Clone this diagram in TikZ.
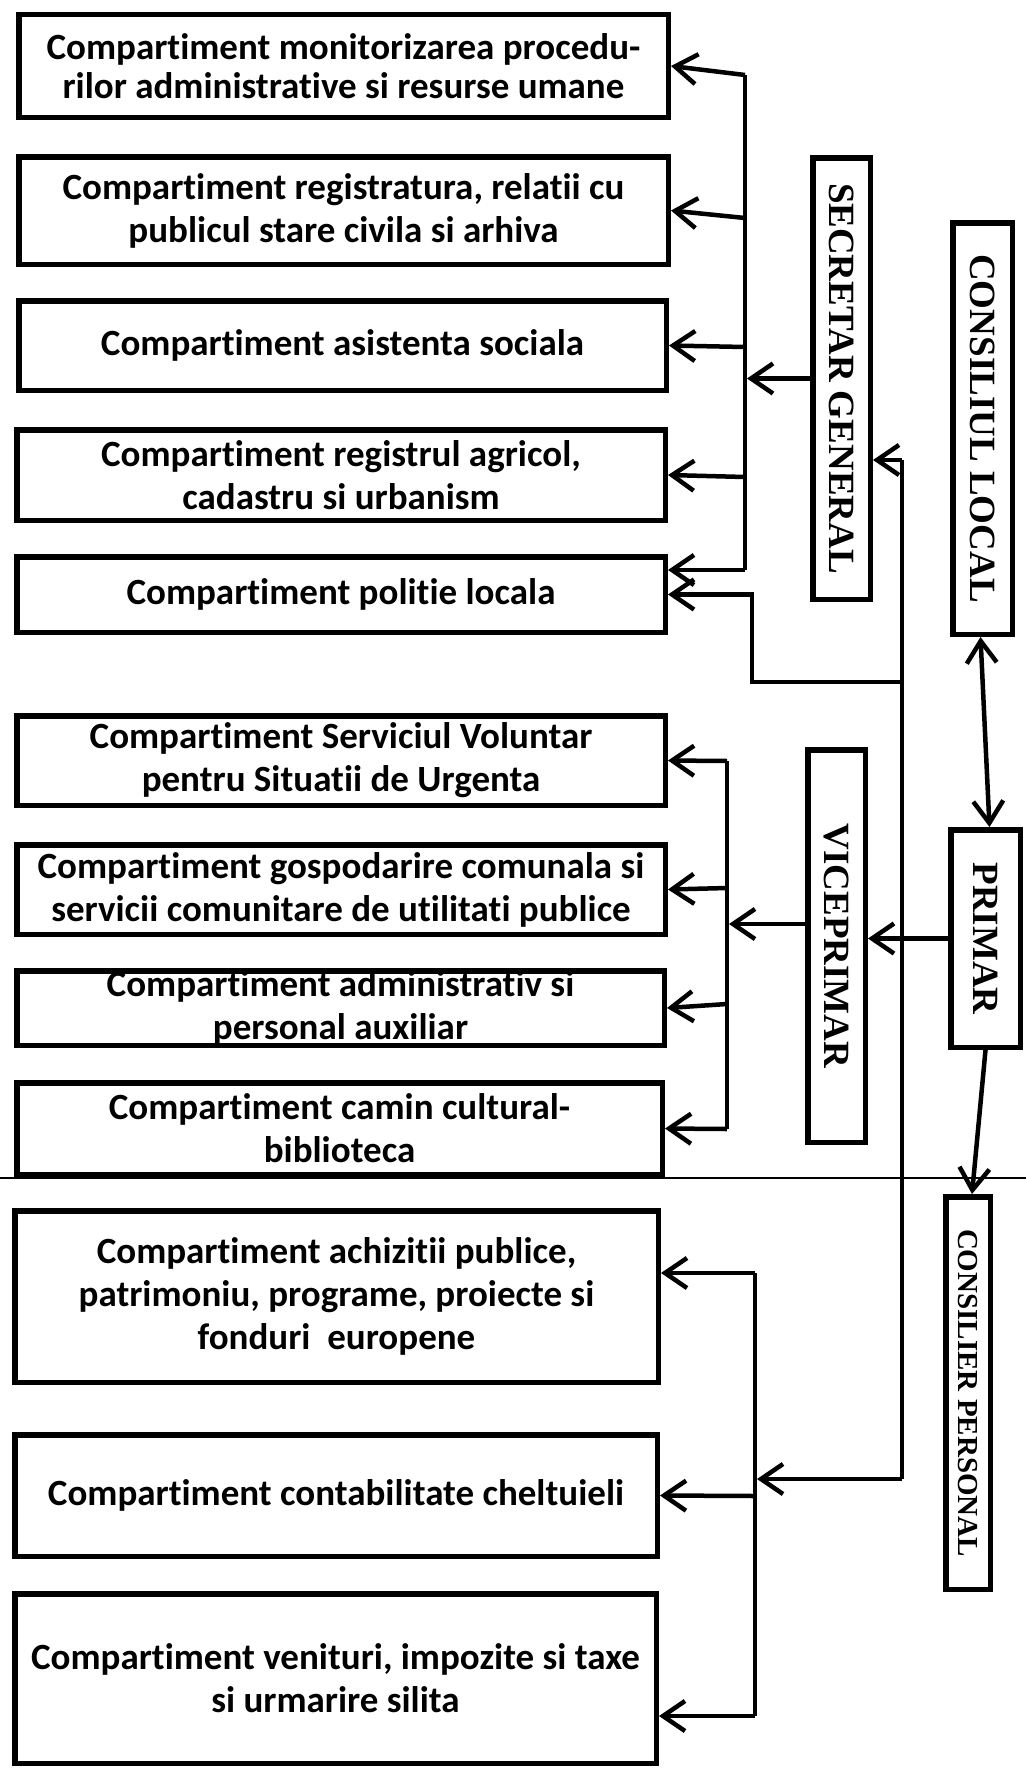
\documentclass[tikz,border=0pt]{standalone}
\usepackage{fontspec}
\setmainfont{Carlito}[Ligatures=NoCommon]
\newfontfamily\tms{Liberation Serif}
\usetikzlibrary{arrows.meta,calc}
\tikzset{
  box/.style={draw, line width=5.5pt, rectangle, inner sep=0pt},
  btext/.style={align=center, inner sep=0pt, font=\fontsize{37}{43}\selectfont\bfseries},
  vtext/.style={rotate=-90, inner sep=0pt, font=\fontsize{37}{40}\selectfont\tms\bfseries},
  conn/.style={line width=4.5pt, line join=miter},
  barb/.tip={Straight Barb[length=22pt,width=30pt]},
  arr/.style={conn, -barb},
}
\begin{document}
\begin{tikzpicture}[x=1pt,y=-1pt]
\fill[white] (0,0) rectangle (1026,1769);
\useasboundingbox (0,0) rectangle (1026,1769);

% left boxes
\node[box, minimum width=649.5pt, minimum height=102.5pt] (b1) at (343.5,66) {};
\node[box, minimum width=649.5pt, minimum height=107.5pt] (b2) at (343.5,210.5) {};
\node[box, minimum width=647.5pt, minimum height=89.5pt] (b3) at (342.5,345.5) {};
\node[box, minimum width=648.5pt, minimum height=90.5pt] (b4) at (341,475) {};
\node[box, minimum width=648.5pt, minimum height=75.5pt] (b5) at (341,594.5) {};
\node[box, minimum width=648.5pt, minimum height=89.5pt] (b6) at (341,760.5) {};
\node[box, minimum width=648.5pt, minimum height=89.5pt] (b7) at (341,889.5) {};
\node[box, minimum width=647.5pt, minimum height=74.5pt] (b8) at (340.5,1008) {};
\node[box, minimum width=645.5pt, minimum height=91.5pt] (b9) at (339.5,1128.5) {};
\node[box, minimum width=643.5pt, minimum height=171.5pt] (b10) at (336.5,1296.5) {};
\node[box, minimum width=642.5pt, minimum height=121.5pt] (b11) at (336,1495.5) {};
\node[box, minimum width=641.5pt, minimum height=169.5pt] (b12) at (335.5,1678.5) {};

\node[btext, font=\fontsize{37}{39}\selectfont\bfseries] (t1) at (b1) {Compartiment monitorizarea procedu-\\rilor administrative si resurse umane};
\node[btext] (t2) at (b2) {Compartiment registratura, relatii cu\\publicul stare civila si arhiva};
\node[btext] (t3) at (b3) {Compartiment asistenta sociala};
\node[btext] (t4) at (b4) {Compartiment registrul agricol,\\cadastru si urbanism};
\node[btext] (t5) at (b5) {Compartiment politie locala};
\node[btext] (t6) at (b6) {Compartiment Serviciul Voluntar\\pentru Situatii de Urgenta};
\node[btext] (t7) at (b7) {Compartiment gospodarire comunala si\\servicii comunitare de utilitati publice};
\node[btext] (t8) at (b8) {Compartiment administrativ si\\personal auxiliar};
\node[btext] (t9) at (b9) {Compartiment camin cultural-\\biblioteca};
\node[btext] (t10) at (b10) {Compartiment achizitii publice,\\patrimoniu, programe, proiecte si\\fonduri\ \ europene};
\node[btext] (t11) at (b11) {Compartiment contabilitate cheltuieli};
\node[btext] (t12) at (b12) {Compartiment venituri, impozite si taxe\\si urmarire silita};

% right boxes
\node[box, minimum width=57.5pt, minimum height=441.5pt] (sec) at (841.5,378.5) {};
\node[box, minimum width=59.5pt, minimum height=411.5pt] (cl) at (982.5,428.5) {};
\node[box, minimum width=57.5pt, minimum height=392.5pt] (vp) at (836.5,946) {};
\node[box, minimum width=69.5pt, minimum height=217.5pt] (pr) at (985.5,938.5) {};
\node[box, minimum width=44.5pt, minimum height=392.5pt] (cp) at (968,1393) {};

\node[vtext] (tsec) at (sec) {SECRETAR GENERAL};
\node[vtext] (tcl) at (cl) {CONSILIUL LOCAL};
\node[vtext] (tvp) at (vp) {VICEPRIMAR};
\node[vtext] (tpr) at (pr) {PRIMAR};
\node[vtext, font=\fontsize{29}{32}\selectfont\tms\bfseries] (tcp) at (cp) {CONSILIER PERSONAL};

% secretar bus
\coordinate (s1) at (745,75);
\coordinate (s2) at (745,218);
\coordinate (s3) at (745,347);
\coordinate (s4) at (745,477);
\coordinate (s5) at (745,570);
\draw[conn] (s1) -- (s5);
\draw[arr] (s1) -- (b1.east);
\draw[arr] (s2) -- (b2.east);
\draw[arr] (s3) -- (b3.east);
\draw[arr] (s4) -- (b4.east);
\draw[arr] (s5) -- (b5.east |- s5);
\draw[arr] (sec.west) -- ([xshift=2pt]sec.west -| s1);

% main line
\coordinate (m1) at (902,460);
\coordinate (m2) at (902,682);
\coordinate (m3) at (902,1479);
\coordinate (p1) at (752,682);
\draw[conn] (m1) -- (m3);
\draw[arr] (m1) -- (m1 -| sec.east);
\draw[arr] (m2) -- (p1) |- (b5.east);

% primar -> viceprimar
\draw[arr] (pr.west) -- (pr.west -| vp.east);

% vice bus
\coordinate (v1) at (727,761);
\coordinate (v2) at (727,888);
\coordinate (v3) at (727,1004);
\coordinate (v4) at (727,1129);
\draw[conn] (v1) -- (v4);
\draw[arr] (v1) -- (b6.east);
\draw[arr] (v2) -- (b7.east);
\draw[arr] (v3) -- (b8.east);
\draw[arr] (v4) -- (b9.east);
\draw[arr] ([yshift=22pt]vp.west) -- ([yshift=22pt,xshift=2pt]vp.west -| v1);

% bottom bus
\coordinate (c1) at (755,1273);
\coordinate (c2) at (755,1496);
\coordinate (c3) at (755,1716);
\draw[conn] (c1) -- (c3);
\draw[arr] (c1) -- (b10.east |- c1);
\draw[arr] (c2) -- (b11.east);
\draw[arr] (c3) -- (b12.east |- c3);
\draw[arr] (m3) -- ([xshift=2pt]m3 -| c1);

% consiliul <-> primar, primar -> consilier
\draw[conn, barb-barb] ([xshift=-2pt]cl.south) -- ([xshift=4pt]pr.north);
\draw[arr] (pr.south) -- ([xshift=4pt]cp.north);

% page rule
\coordinate (rl) at (0,1178);
\coordinate (rr) at (1026,1178);
\draw[line width=1.2pt] (rl) -- (rr);
\end{tikzpicture}
\end{document}
